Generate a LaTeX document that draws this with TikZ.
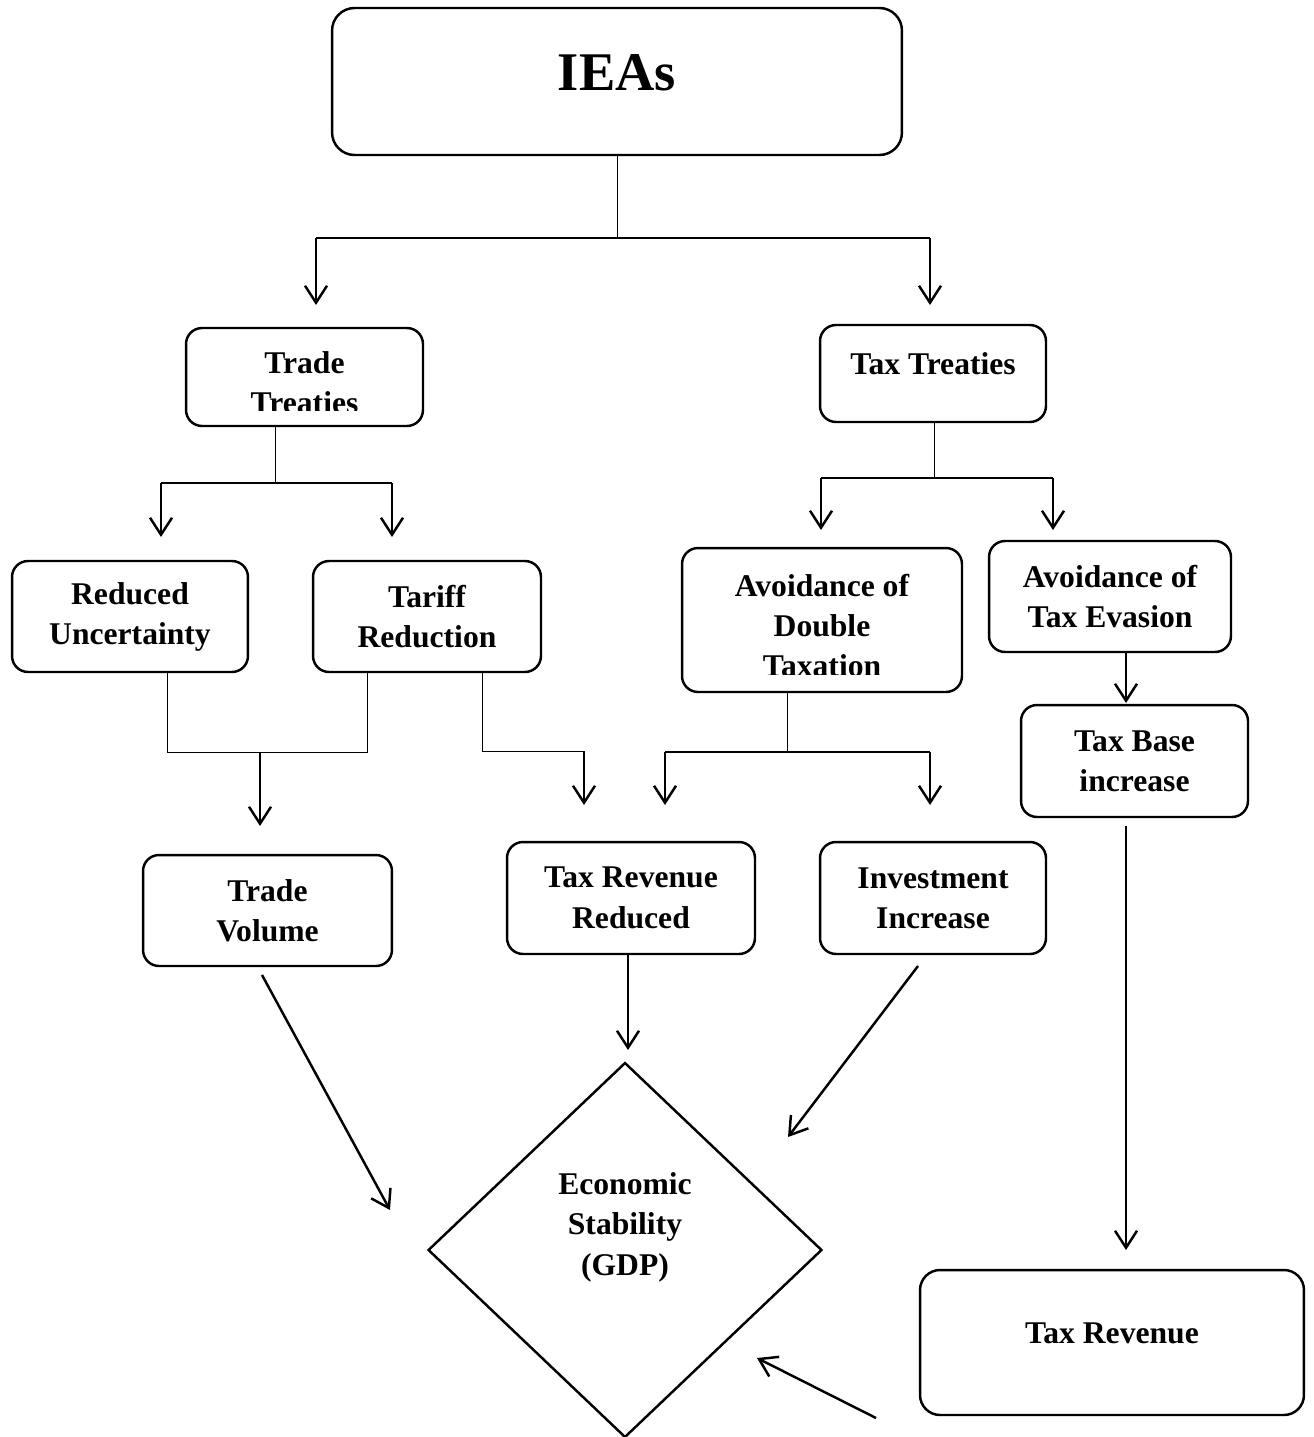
\documentclass[tikz,border=0pt]{standalone}
\usepackage{fontspec}
\setmainfont{Liberation Serif}
\usetikzlibrary{arrows.meta, shapes.geometric}

\begin{document}
\begin{tikzpicture}[x=0.02cm, y=-0.02cm,
    box/.style={draw, rounded corners=0.32cm, line width=1.4pt, align=center,
        inner sep=0pt, font=\fontsize{18}{23}\selectfont\bfseries},
    txt/.style={align=center, inner sep=0pt, font=\fontsize{18}{23}\selectfont\bfseries},
    stem/.style={line width=0.55pt},
    branch/.style={line width=1pt},
    arr/.style={line width=1.4pt, -{Straight Barb[length=0.34cm, width=0.44cm]}}]

    % Page frame
    \useasboundingbox (0,0) rectangle (1313,1437);

    % Boxes
    \node[box, rounded corners=0.45cm, minimum width=11.4cm, minimum height=2.94cm,
        font=\fontsize{31}{36}\selectfont\bfseries, text depth=0.36cm] (iea) at (617,81.5) {IEAs};
    \node[box, minimum width=4.74cm, minimum height=1.96cm] (trade) at (304.5,377) {};
    \node[box, minimum width=4.52cm, minimum height=1.94cm, text depth=0.38cm] (taxt) at (933,373.5) {Tax Treaties};
    \node[box, minimum width=4.72cm, minimum height=2.22cm, text depth=0.12cm] (unc) at (130,616.5) {Reduced\\Uncertainty};
    \node[box, minimum width=4.56cm, minimum height=2.22cm] (tariff) at (427,616.5) {Tariff\\Reduction};
    \node[box, minimum width=5.6cm, minimum height=2.88cm] (dbl) at (822,620) {};
    \node[box, minimum width=4.84cm, minimum height=2.22cm] (evas) at (1110,596.5) {Avoidance of\\Tax Evasion};
    \node[box, minimum width=4.54cm, minimum height=2.24cm] (base) at (1134.5,761) {Tax Base\\increase};
    \node[box, minimum width=4.98cm, minimum height=2.22cm] (vol) at (267.5,910.5) {Trade\\Volume};
    \node[box, minimum width=4.96cm, minimum height=2.24cm] (red) at (631,898) {Tax Revenue\\Reduced};
    \node[box, minimum width=4.52cm, minimum height=2.24cm] (inv) at (933,898) {Investment\\Increase};
    \node[box, rounded corners=0.4cm, minimum width=7.68cm, minimum height=2.9cm,
        text depth=0.36cm] (taxrev) at (1112,1342.5) {Tax Revenue};
    \node[draw, diamond, line width=1.4pt, minimum width=7.88cm, minimum height=7.5cm,
        align=center, inner sep=0pt, text depth=1.05cm,
        font=\fontsize{18}{23}\selectfont\bfseries] (gdp) at (625,1250) {Economic\\Stability\\(GDP)};

    % Texts cut off at the box bottom
    \begin{scope}
        \clip (186,328) rectangle (423,410);
        \node[txt] (trade-t) at (304.5,382.5) {Trade\\Treaties};
    \end{scope}
    \begin{scope}
        \clip (682,548) rectangle (962,674);
        \node[txt] (dbl-t) at (822,625.5) {Avoidance of\\Double\\Taxation};
    \end{scope}

    % IEAs split
    \coordinate (ieaj) at (617,238);
    \draw[stem] (iea.south) -- (ieaj);
    \draw[branch] (316,238) coordinate (ieal) -- (930,238) coordinate (iear);
    \draw[arr] (ieal) -- ++(0,67);
    \draw[arr] (iear) -- ++(0,67);

    % Trade treaties split
    \coordinate (trj) at (275,483);
    \draw[stem] (trade.south -| trj) -- (trj);
    \draw[branch] (161,483) coordinate (trl) -- (392,483) coordinate (trr);
    \draw[arr] (trl) -- ++(0,54);
    \draw[arr] (trr) -- ++(0,54);

    % Tax treaties split
    \coordinate (ttj) at (934,478);
    \draw[stem] (taxt.south -| ttj) -- (ttj);
    \draw[branch] (821,478) coordinate (ttl) -- (1053,478) coordinate (ttr);
    \draw[arr] (ttl) -- ++(0,52);
    \draw[arr] (ttr) -- ++(0,52);

    % Towards trade volume
    \coordinate (uj) at (167,752);
    \coordinate (tj) at (367,752);
    \draw[stem] (unc.south -| uj) -- (uj) -- (tj) -- (tariff.south -| tj);
    \coordinate (vj) at (260,752);
    \draw[arr] (vj) -- ++(0,74);

    % Tariff towards revenue reduced
    \coordinate (rj) at (482,751);
    \draw[stem] (tariff.south -| rj) -- (rj) -- ++(102,0) coordinate (rk);
    \draw[arr] (rk) -- ++(0,54);

    % Double taxation split
    \coordinate (dj) at (787,752);
    \draw[stem] (dbl.south -| dj) -- (dj);
    \draw[branch] (665,752) coordinate (dl) -- (930,752) coordinate (dr);
    \draw[arr] (dl) -- ++(0,53);
    \draw[arr] (dr) -- ++(0,53);

    % Tax evasion chain
    \coordinate (ebx) at (1126,703);
    \draw[arr] (evas.south -| ebx) -- (ebx);
    \coordinate (b1) at (1126,826);
    \coordinate (b2) at (1126,1250);
    \draw[arr] (b1) -- (b2);

    % Into economic stability
    \coordinate (v1) at (262,975);
    \coordinate (v2) at (390,1210);
    \draw[arr] (v1) -- (v2);
    \coordinate (r1) at (628,954);
    \draw[arr] (r1) -- ++(0,96);
    \coordinate (i1) at (918,966);
    \coordinate (i2) at (788,1137);
    \draw[arr] (i1) -- (i2);
    \coordinate (t1) at (876,1418);
    \coordinate (t2) at (757,1358);
    \draw[arr] (t1) -- (t2);

\end{tikzpicture}
\end{document}
